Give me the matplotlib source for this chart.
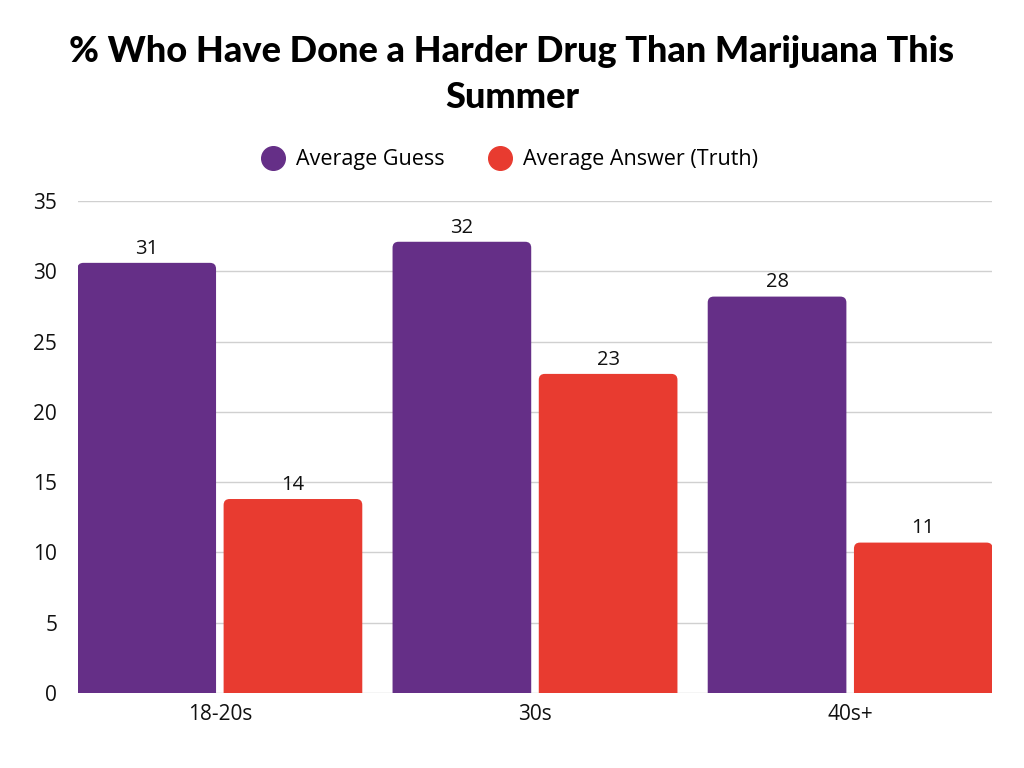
import matplotlib
matplotlib.use("Agg")
import matplotlib.pyplot as plt
from matplotlib.patches import FancyBboxPatch
import numpy as np

categories = ["18-20s", "30s", "40s+"]
guess = [30.6, 32.1, 28.2]
truth = [13.8, 22.7, 10.7]
guess_labels = ["31", "32", "28"]
truth_labels = ["14", "23", "11"]
series_names = ["Average Guess", "Average Answer (Truth)"]
yticks = [0, 5, 10, 15, 20, 25, 30, 35]

PURPLE = "#652F87"
RED = "#E83B30"

plt.rcParams['font.family'] = ['Open Sans', 'DejaVu Sans']

fig = plt.figure(figsize=(10.24, 7.68), dpi=100)
ax = fig.add_axes([78/1024, 1-693/768, (992-78)/1024, (693-201)/768])

x = np.arange(len(categories))
w = 0.44
off = 0.232
b1 = ax.bar(x - off, guess, w, color=PURPLE)
b2 = ax.bar(x + off, truth, w, color=RED)

ax.set_xlim(-0.45, 2.45)
ax.set_ylim(0, 35)

# rounded top corners
xpx = 914 / 2.9
ypx = 492 / 35
r = 6 / xpx
aspect = xpx / ypx
for bars, lbls in ((b1, guess_labels), (b2, truth_labels)):
    for bar, lbl in zip(bars, lbls):
        bx, bw, bh = bar.get_x(), bar.get_width(), bar.get_height()
        bar.set_visible(False)
        p = FancyBboxPatch((bx, -2), bw, bh + 2,
                           boxstyle=f"round,pad=0,rounding_size={r}",
                           mutation_aspect=aspect,
                           facecolor=bar.get_facecolor(), edgecolor="none",
                           zorder=3, clip_on=True)
        ax.add_patch(p)
        ax.annotate(lbl, (bx + bw/2, bh), xytext=(0, 3), textcoords="offset points",
                    ha="center", va="bottom", fontsize=14.5, color="#111111")

ax.set_yticks(yticks)
ax.set_xticks(x)
ax.set_xticklabels(categories)
ax.tick_params(axis="both", length=0, labelsize=15, colors="#111111")
ax.tick_params(axis="y", pad=15)
ax.tick_params(axis="x", pad=8)
ax.grid(axis="y", color="#D0D0D0", linewidth=1)
ax.set_axisbelow(True)
for s in ax.spines.values():
    s.set_visible(False)

fig.text(0.5, 1-52/768, "% Who Have Done a Harder Drug Than Marijuana This",
         ha="center", va="center", fontsize=26, fontweight="black", family=["Lato", "DejaVu Sans"])
fig.text(0.5, 1-97/768, "Summer",
         ha="center", va="center", fontsize=26, fontweight="black", family=["Lato", "DejaVu Sans"])

handles = [plt.Line2D([], [], marker="o", linestyle="none", markersize=17, color=c)
           for c in (PURPLE, RED)]
fig.legend(handles, series_names, loc="center", bbox_to_anchor=(0.497, 1-160/768),
           ncol=2, frameon=False, fontsize=15.5, handletextpad=0.45, columnspacing=2.0,
           handlelength=1.2)

fig.savefig("out.png", dpi=100)
